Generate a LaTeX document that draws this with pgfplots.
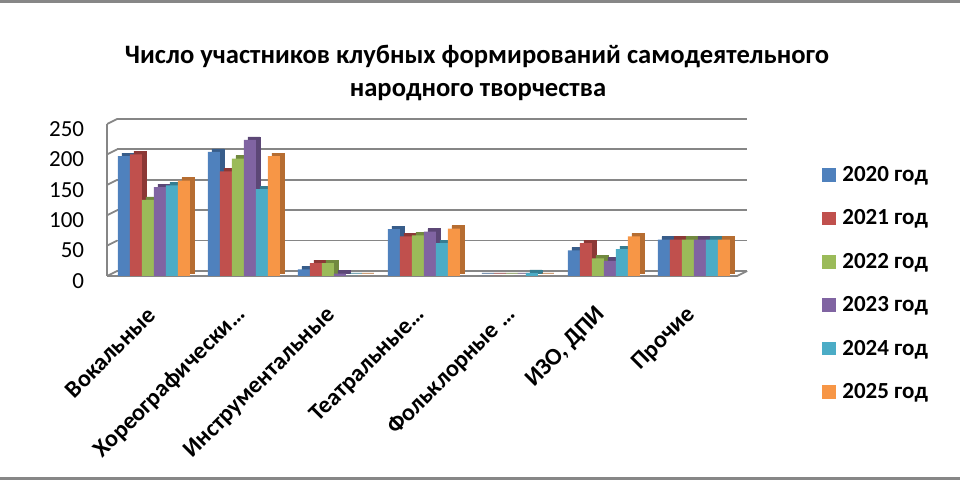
\documentclass[border=0pt]{standalone}
\usepackage{pgfplots}
\pgfplotsset{compat=1.18}
\usepackage{pgfplotstable}
\usepackage{fontspec}
\setmainfont{Carlito}
\definecolor{c1}{HTML}{4F81BD}\definecolor{d1}{HTML}{385D8A}
\definecolor{c2}{HTML}{C0504D}\definecolor{d2}{HTML}{8C3836}
\definecolor{c3}{HTML}{9BBB59}\definecolor{d3}{HTML}{71893F}
\definecolor{c4}{HTML}{8064A2}\definecolor{d4}{HTML}{5C4776}
\definecolor{c5}{HTML}{4BACC6}\definecolor{d5}{HTML}{357D91}
\definecolor{c6}{HTML}{F79646}\definecolor{d6}{HTML}{B66D31}
\definecolor{gridc}{HTML}{868686}
\pgfplotstableread{
x a b c d e f
0 197 200 125 146 149 157
1 204 172 193 224 143 197
2 11 21 21 4 0 0
3 77 65 67 73 54 78
4 0 0 0 0 5 0
5 42 54 29 25 44 65
6 60 60 60 60 60 60
}\data
\begin{document}
\begin{tikzpicture}
\begin{scope}[x=1pt,y=1pt,shift={(-77pt,-102pt)}]
\useasboundingbox (0,0) rectangle (480,240);
\fill[black!47] (0,238.3) rectangle (480,240);
\fill[black!47] (0,0) rectangle (480,1.7);
\node[anchor=base, inner sep=0, font=\bfseries\fontsize{13.3}{15}\selectfont] at (238.5,208) {Число участников клубных формирований самодеятельного};
\node[anchor=base, inner sep=0, font=\bfseries\fontsize{13.3}{15}\selectfont] at (239,191.5) {народного творчества};
\foreach \c/\t [count=\i from 0] in {c1/2020,c2/2021,c3/2022,c4/2023,c5/2024,c6/2025}{
  \fill[\c] (411,{152.5-21.7*\i-3.4}) rectangle ++(6.8,6.8);
  \node[anchor=base west, inner sep=0, font=\bfseries\fontsize{11.5}{13}\selectfont] at (421,{149.2-21.7*\i}) {\t\ год};
}
\end{scope}
\begin{axis}[at={(0pt,0pt)}, anchor=origin, scale only axis,
  width=315pt, height=76pt,
  xmin=-0.52, xmax=6.48, ymin=0, ymax=250, clip=false,
  axis line style={draw=none}, major tick length=0pt,
  xtick={0,...,6},
  xticklabels={Вокальные, Хореографически…, Инструментальные, Театральные…, Фольклорные …, {ИЗО, ДПИ}, Прочие},
  ytick={0,50,...,250},
  /pgf/number format/assume math mode=true,
  yticklabel style={font=\fontsize{11.5}{12}\selectfont, anchor=east, xshift=-8pt, yshift=-2.5pt},
  xticklabel style={font=\bfseries\fontsize{12}{14}\selectfont, rotate=45, anchor=east, xshift=-9.8pt, yshift=-11.7pt},
  ybar, bar width=6pt,
]
\pgfplotsinvokeforeach{0,50,100,150,200,250}{
  \draw[gridc, line width=0.9pt] ([xshift=5pt,yshift=2.5pt]axis cs:-0.52,#1) -- ([xshift=5pt,yshift=2.5pt]axis cs:6.48,#1);
  \draw[gridc, line width=0.9pt] ([xshift=5pt,yshift=2.5pt]axis cs:-0.52,#1) -- (axis cs:-0.52,#1);
}
\draw[gridc, line width=0.9pt] (axis cs:-0.52,0) -- (axis cs:-0.52,250);
\draw[gridc, line width=0.9pt] (axis cs:-0.52,0) -- (axis cs:6.48,0) -- ([xshift=5pt,yshift=2.5pt]axis cs:6.48,0);
\addplot[fill=d1, draw=d1, line width=0.3pt, bar shift=-13pt, yshift=1.5pt, forget plot] table[x=x,y=a]{\data};
\addplot[fill=c1, draw=none, bar shift=-15pt] table[x=x,y=a]{\data};
\addplot[fill=d2, draw=d2, line width=0.3pt, bar shift=-7pt, yshift=1.5pt, forget plot] table[x=x,y=b]{\data};
\addplot[fill=c2, draw=none, bar shift=-9pt] table[x=x,y=b]{\data};
\addplot[fill=d3, draw=d3, line width=0.3pt, bar shift=-1pt, yshift=1.5pt, forget plot] table[x=x,y=c]{\data};
\addplot[fill=c3, draw=none, bar shift=-3pt] table[x=x,y=c]{\data};
\addplot[fill=d4, draw=d4, line width=0.3pt, bar shift=5pt, yshift=1.5pt, forget plot] table[x=x,y=d]{\data};
\addplot[fill=c4, draw=none, bar shift=3pt] table[x=x,y=d]{\data};
\addplot[fill=d5, draw=d5, line width=0.3pt, bar shift=11pt, yshift=1.5pt, forget plot] table[x=x,y=e]{\data};
\addplot[fill=c5, draw=none, bar shift=9pt] table[x=x,y=e]{\data};
\addplot[fill=d6, draw=d6, line width=0.3pt, bar shift=17pt, yshift=1.5pt, forget plot] table[x=x,y=f]{\data};
\addplot[fill=c6, draw=none, bar shift=15pt] table[x=x,y=f]{\data};
\end{axis}
\end{tikzpicture}
\end{document}
